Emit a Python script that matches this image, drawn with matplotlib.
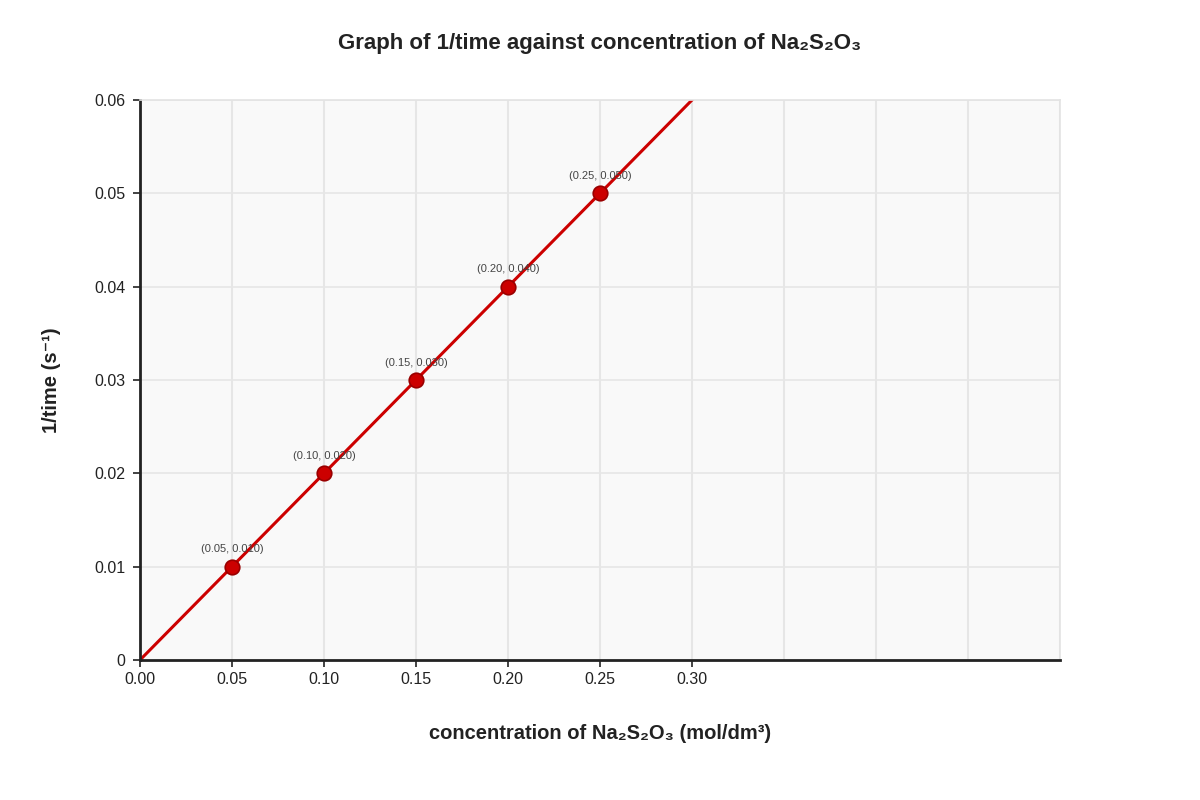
import matplotlib
matplotlib.use("Agg")
import matplotlib.pyplot as plt
import numpy as np

plt.rcParams['font.family'] = ['Liberation Sans', 'DejaVu Sans']

# data
conc = [0.05, 0.10, 0.15, 0.20, 0.25]
inv_time = [0.010, 0.020, 0.030, 0.040, 0.050]
x_ticks = [0.00, 0.05, 0.10, 0.15, 0.20, 0.25, 0.30]
y_ticks = [0, 0.01, 0.02, 0.03, 0.04, 0.05, 0.06]
y_tick_labels = ['0', '0.01', '0.02', '0.03', '0.04', '0.05', '0.06']
grid_x = [0.05 * i for i in range(11)]

fig = plt.figure(figsize=(12, 8), dpi=100)
ax = fig.add_axes([140 / 1200, 140 / 800, 920 / 1200, 560 / 800])
ax.set_facecolor('#f9f9f9')

ax.set_xlim(0, 0.5)
ax.set_ylim(0, 0.06)

for gx in grid_x[1:]:
    ax.axvline(gx, color='#e6e6e6', lw=1.5, zorder=0)
for gy in y_ticks[1:]:
    ax.axhline(gy, color='#e6e6e6', lw=1.2, zorder=0)

# line of best fit through origin
slope = np.polyfit(conc, inv_time, 1)[0]
lx = np.array([0, 0.30])
ax.plot(lx, slope * lx, color='#cc0000', lw=2.2, zorder=2)

ax.scatter(conc, inv_time, s=110, color='#cc0000', edgecolor='#990000',
           linewidth=1.2, zorder=3)
for cx, cy in zip(conc, inv_time):
    ax.annotate(f"({cx:.2f}, {cy:.3f})", (cx, cy), xytext=(0, 9),
                textcoords='offset points', ha='center', va='bottom',
                fontsize=8, color='#444444', zorder=4)

ax.set_xticks(x_ticks)
ax.set_xticklabels([f"{t:.2f}" for t in x_ticks])
ax.set_yticks(y_ticks)
ax.set_yticklabels(y_tick_labels)
ax.tick_params(axis='both', labelsize=11.5, colors='#222222', length=5, width=1.2)
ax.tick_params(axis='x', pad=4)
ax.tick_params(axis='y', pad=5.5)

for side in ['top', 'right']:
    ax.spines[side].set_color('#e3e3e3')
    ax.spines[side].set_linewidth(1.2)
for side in ['left', 'bottom']:
    ax.spines[side].set_color('#222222')
    ax.spines[side].set_linewidth(2)

ax.set_xlabel('concentration of Na₂S₂O₃ (mol/dm³)', fontsize=14.5,
              fontweight='bold', color='#222222', labelpad=26)
ax.set_ylabel('1/time (s⁻¹)', fontsize=14.5, fontweight='bold',
              color='#222222', labelpad=24)
fig.text(600 / 1200, 1 - 43 / 800, 'Graph of 1/time against concentration of Na₂S₂O₃',
         ha='center', va='center', fontsize=16, fontweight='bold', color='#222222')

fig.savefig('out.png', dpi=100)
